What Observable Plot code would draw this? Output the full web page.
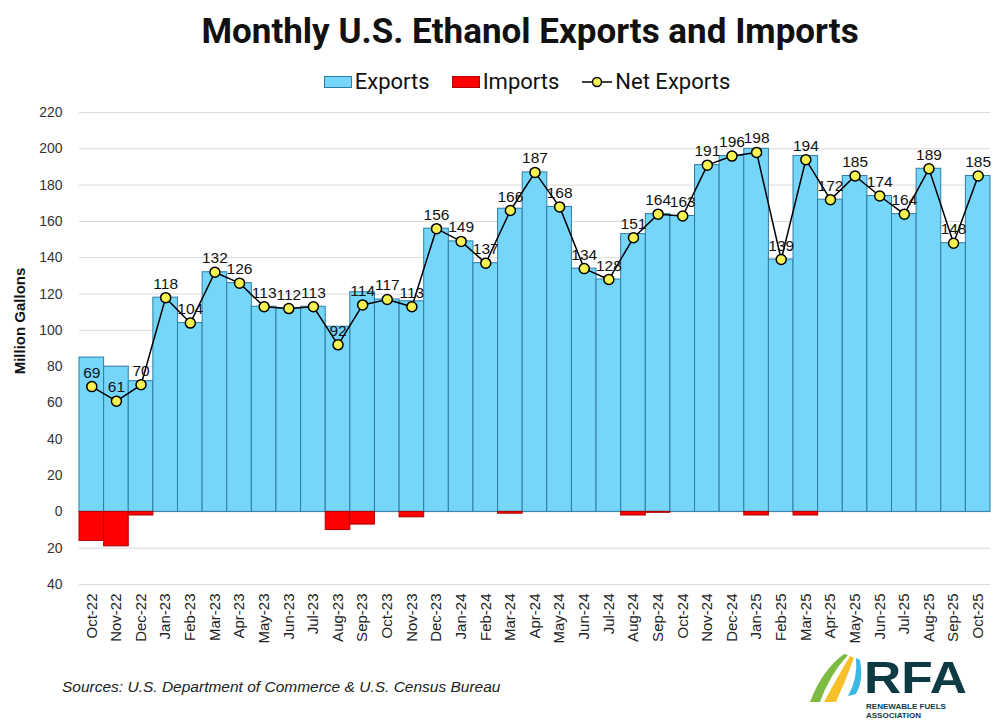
<!DOCTYPE html>
<html>
<head>
<meta charset="utf-8">
<script src="https://cdn.jsdelivr.net/npm/d3@7"></script>
<script src="https://cdn.jsdelivr.net/npm/@observablehq/plot@0.6"></script>
<style>
  html, body { margin: 0; padding: 0; background: #fff; }
  #wrap { position: relative; width: 1000px; height: 725px; background: #fff; overflow: hidden; font-family: "Liberation Sans", Arial, sans-serif; }
  #title { position: absolute; top: 11px; left: 30px; width: 1000px; text-align: center; font-family: Roboto, "Liberation Sans", sans-serif; font-weight: 700; font-size: 35px; line-height: 42px; color: #111; }
  #legend { position: absolute; top: 70px; left: 0; width: 1054px; display: flex; justify-content: center; align-items: center; font-family: Roboto, "Liberation Sans", sans-serif; font-size: 22px; color: #111; line-height: 24px; }
  .li { display: flex; align-items: center; margin: 0 11px; }
  .sw { width: 28px; height: 12px; box-sizing: border-box; margin-right: 3px; }
  #chart { position: absolute; top: 100px; left: 0; }
  #ytitle { position: absolute; left: 19px; top: 321px; width: 0; height: 0; }
  #ytitle span { position: absolute; left: 0; top: 0; transform: translate(-50%, -50%) rotate(-90deg); font-weight: 700; font-size: 15px; white-space: nowrap; color: #111; font-family: "Liberation Sans Narrow", "Arial Narrow", "Liberation Sans", sans-serif; }
  #source { position: absolute; left: 62px; top: 678px; font-style: italic; font-size: 15.5px; color: #222; }
  #logo { position: absolute; left: 800px; top: 640px; }
  #chart svg text.lbl { letter-spacing: -0.3px; }
</style>
</head>
<body>
<div id="wrap">
  <div id="title">Monthly U.S. Ethanol Exports and Imports</div>
  <div id="legend">
    <div class="li"><div class="sw" style="background:#76D6FA;border:1px solid #2C7DA3"></div>Exports</div>
    <div class="li"><div class="sw" style="background:#FF0000;border:1px solid #B00000"></div>Imports</div>
    <div class="li"><svg width="32" height="14" style="margin-right:2px"><line x1="1" y1="7" x2="31" y2="7" stroke="black" stroke-width="1.5"/><circle cx="16" cy="7" r="4.5" fill="#F6F250" stroke="black" stroke-width="1.5"/></svg>Net Exports</div>
  </div>
  <div id="chart"></div>
  <div id="ytitle"><span>Million Gallons</span></div>
  <div id="source">Sources: U.S. Department of Commerce &amp; U.S. Census Bureau</div>
  <svg id="logo" width="200" height="85" viewBox="0 0 200 85">
    <path d="M10 62 Q22 30 44 14 L48 15 Q30 34 20 62 Z" fill="#7DBB42"/>
    <path d="M24 62 Q38 36 50 16 L54 18 Q46 40 36 62 Z" fill="#F5C02A"/>
    <path d="M48 56 Q58 38 56 18 L60 20 Q64 40 56 54 Z" fill="#3CB8E6"/>
    <text transform="translate(64,53) scale(1,1.12)" x="0" y="0" font-family="Liberation Sans, Arial" font-weight="700" font-size="40" fill="#0E3B43" textLength="103" lengthAdjust="spacingAndGlyphs">RFA</text>
    <text x="66" y="68.5" font-family="Liberation Sans, Arial" font-weight="700" font-size="6.5" fill="#0E3B43" textLength="80" lengthAdjust="spacingAndGlyphs">RENEWABLE FUELS</text>
    <text x="66" y="78" font-family="Liberation Sans, Arial" font-weight="700" font-size="6.5" fill="#0E3B43" textLength="55" lengthAdjust="spacingAndGlyphs">ASSOCIATION</text>
  </svg>
</div>
<script>
const months = ["Oct-22","Nov-22","Dec-22","Jan-23","Feb-23","Mar-23","Apr-23","May-23","Jun-23","Jul-23","Aug-23","Sep-23","Oct-23","Nov-23","Dec-23","Jan-24","Feb-24","Mar-24","Apr-24","May-24","Jun-24","Jul-24","Aug-24","Sep-24","Oct-24","Nov-24","Dec-24","Jan-25","Feb-25","Mar-25","Apr-25","May-25","Jun-25","Jul-25","Aug-25","Sep-25","Oct-25"];
const exportsVals = [85,80,72,118,104,132,126,113,112,113,102,121,117,116,156,149,137,167,187,168,134,128,153,164,163,191,196,200,139,196,172,185,174,164,189,148,185];
const importsVals = [16,19,2,0,0,0,0,0,0,0,10,7,0,3,0,0,0,1,0,0,0,0,2,0.5,0,0,0,2,0,2,0,0,0,0,0,0,0];
const netVals = [69,61,70,118,104,132,126,113,112,113,92,114,117,113,156,149,137,166,187,168,134,128,151,164,163,191,196,198,139,194,172,185,174,164,189,148,185];
const yTicks = [-40,-20,0,20,40,60,80,100,120,140,160,180,200,220];

const data = months.map((m, i) => ({month: m, exports: exportsVals[i], imports: importsVals[i], net: netVals[i]}));

const chart = Plot.plot({
  width: 1000,
  height: 560,
  marginLeft: 79,
  marginRight: 10,
  marginTop: 12,
  marginBottom: 76,
  style: {fontFamily: "'Liberation Sans', Arial, sans-serif", background: "transparent", color: "#222"},
  x: {domain: months, padding: 0, round: false},
  y: {domain: [-40, 220]},
  marks: [
    Plot.gridY(yTicks, {stroke: "#d9d9d9", strokeOpacity: 1, strokeWidth: 1}),
    Plot.barY(data, {x: "month", y: "exports", fill: "#76D6FA", stroke: "#2C7DA3", strokeWidth: 1}),
    Plot.barY(data.filter(d => d.imports > 0), {x: "month", y: d => -d.imports, fill: "#FF0000", stroke: "#B00000", strokeWidth: 1}),
    Plot.line(data, {x: "month", y: "net", stroke: "black", strokeWidth: 1.5}),
    Plot.dot(data, {x: "month", y: "net", r: 5, fill: "#F6F250", stroke: "black", strokeWidth: 1.5}),
    Plot.text(data, {x: "month", y: "net", text: d => String(d.net), dy: -9, lineAnchor: "bottom", fontSize: 15.5, fill: "#111", fontFamily: "'Liberation Sans Narrow', 'Arial Narrow', 'Liberation Sans', sans-serif", className: "lbl"}),
    Plot.axisY(yTicks, {tickSize: 0, tickPadding: 17, tickFormat: d => Math.abs(d), fontSize: 14, label: null, fill: "#333"}),
    Plot.axisX({tickSize: 0, tickRotate: -90, tickPadding: 9, fontSize: 15, label: null, fill: "#222"})
  ]
});
document.getElementById("chart").appendChild(chart);
</script>
</body>
</html>
